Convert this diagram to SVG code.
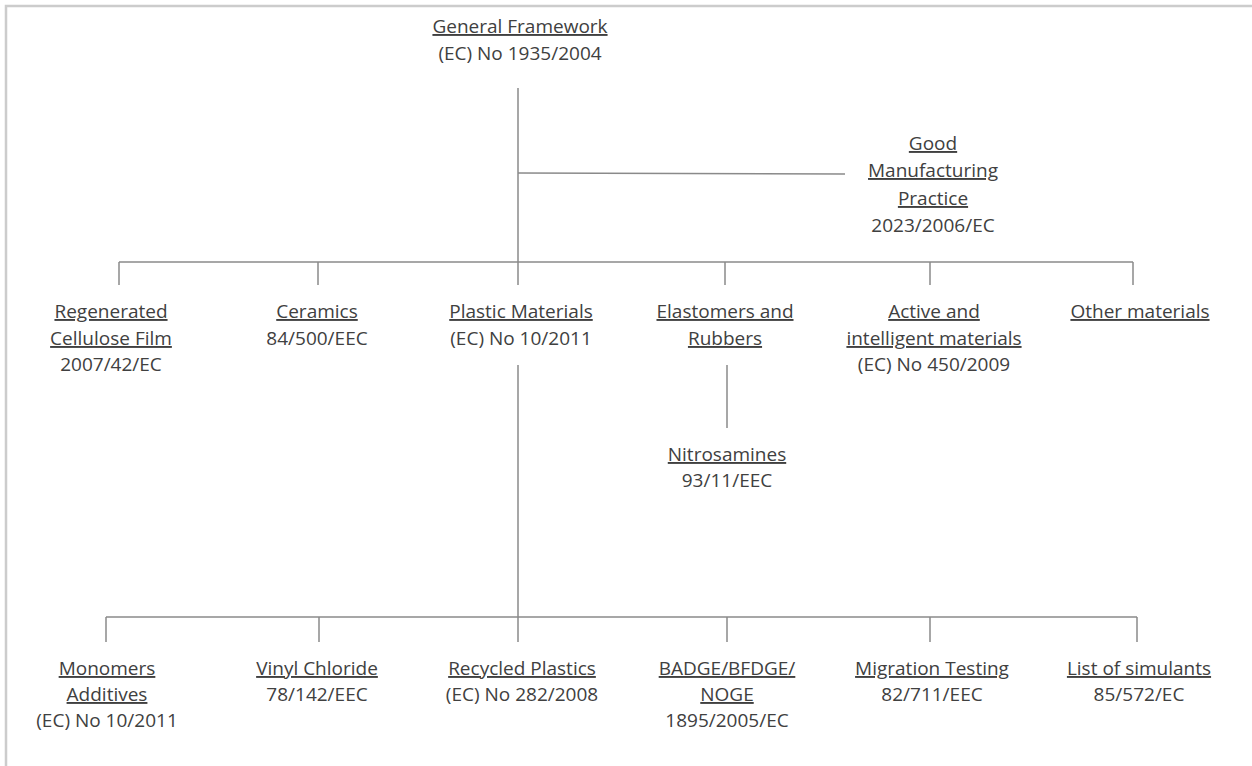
<svg xmlns="http://www.w3.org/2000/svg" width="1252" height="766" viewBox="0 0 1252 766">
<style>
text{font-family:"Open Sans","Noto Sans","Liberation Sans",sans-serif;font-size:19px;fill:#404040;text-anchor:middle}
.u{text-decoration:underline}
.c line{stroke:#8a8a8a;stroke-width:1.5}
</style>
<rect width="1252" height="766" fill="#fff"/>
<path d="M6,766 V6 H1252" fill="none" stroke="#cccccc" stroke-width="2.5"/>
<g class="c" id="connectors">
<line x1="518" y1="88" x2="518" y2="262"/>
<line x1="518" y1="173" x2="845" y2="174"/>
<line x1="119" y1="262" x2="1133" y2="262"/>
<line x1="119" y1="262" x2="119" y2="285"/>
<line x1="318" y1="262" x2="318" y2="285"/>
<line x1="518" y1="262" x2="518" y2="285"/>
<line x1="725" y1="262" x2="725" y2="285"/>
<line x1="930" y1="262" x2="930" y2="285"/>
<line x1="1133" y1="262" x2="1133" y2="285"/>
<line x1="727" y1="365" x2="727" y2="428"/>
<line x1="518" y1="365" x2="518" y2="617"/>
<line x1="106" y1="617" x2="1137" y2="617"/>
<line x1="106" y1="617" x2="106" y2="642"/>
<line x1="319" y1="617" x2="319" y2="642"/>
<line x1="518" y1="617" x2="518" y2="642"/>
<line x1="727" y1="617" x2="727" y2="642"/>
<line x1="930" y1="617" x2="930" y2="642"/>
<line x1="1137" y1="617" x2="1137" y2="642"/>
</g>
<g id="general"><text x="520" y="33" class="u">General Framework</text><text x="520" y="60">(EC) No 1935/2004</text></g>
<g id="gmp"><text x="933" y="150" class="u">Good</text><text x="933" y="177" class="u">Manufacturing</text><text x="933" y="205" class="u">Practice</text><text x="933" y="232">2023/2006/EC</text></g>
<g id="cellulose"><text x="111" y="318" class="u">Regenerated</text><text x="111" y="345" class="u">Cellulose Film</text><text x="111" y="371">2007/42/EC</text></g>
<g id="ceramics"><text x="317" y="318" class="u">Ceramics</text><text x="317" y="345">84/500/EEC</text></g>
<g id="plastic"><text x="521" y="318" class="u">Plastic Materials</text><text x="521" y="345">(EC) No 10/2011</text></g>
<g id="elastomers"><text x="725" y="318" class="u">Elastomers and</text><text x="725" y="345" class="u">Rubbers</text></g>
<g id="active"><text x="934" y="318" class="u">Active and</text><text x="934" y="345" class="u">intelligent materials</text><text x="934" y="371">(EC) No 450/2009</text></g>
<g id="other"><text x="1140" y="318" class="u">Other materials</text></g>
<g id="nitrosamines"><text x="727" y="461" class="u">Nitrosamines</text><text x="727" y="487">93/11/EEC</text></g>
<g id="monomers"><text x="107" y="675" class="u">Monomers</text><text x="107" y="701" class="u">Additives</text><text x="107" y="727">(EC) No 10/2011</text></g>
<g id="vinyl"><text x="317" y="675" class="u">Vinyl Chloride</text><text x="317" y="701">78/142/EEC</text></g>
<g id="recycled"><text x="522" y="675" class="u">Recycled Plastics</text><text x="522" y="701">(EC) No 282/2008</text></g>
<g id="badge"><text x="727" y="675" class="u">BADGE/BFDGE/</text><text x="727" y="701" class="u">NOGE</text><text x="727" y="727">1895/2005/EC</text></g>
<g id="migration"><text x="932" y="675" class="u">Migration Testing</text><text x="932" y="701">82/711/EEC</text></g>
<g id="simulants"><text x="1139" y="675" class="u">List of simulants</text><text x="1139" y="701">85/572/EC</text></g>
</svg>
